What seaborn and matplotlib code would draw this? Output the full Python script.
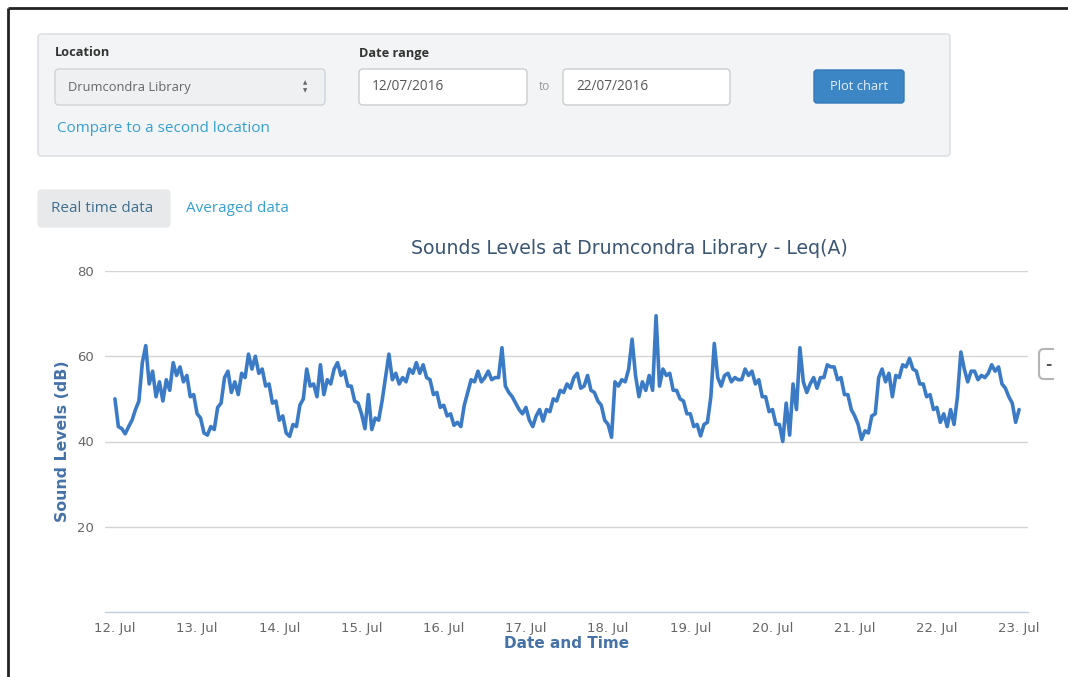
import pandas as pd
import matplotlib
matplotlib.use('Agg')
import matplotlib.pyplot as plt
import matplotlib.dates as mdates
from matplotlib.patches import FancyBboxPatch, Rectangle
import seaborn as sns

# hourly Leq(A) readings at Drumcondra Library, one list per day from 12 Jul 2016 00:00
day_12 = [50.0, 43.5, 43.0, 41.8, 43.5, 45.0, 47.5, 49.5, 58.5, 62.5, 53.5, 56.5,
          50.5, 54.0, 49.5, 54.5, 52.0, 58.5, 55.5, 57.5, 54.0, 55.5, 50.5, 51.0]
day_13 = [46.5, 45.5, 42.0, 41.5, 43.5, 42.8, 48.0, 49.0, 55.0, 56.5, 51.5, 54.0,
          51.0, 56.0, 55.0, 60.5, 57.0, 60.0, 56.0, 57.0, 53.0, 53.5, 49.0, 49.5]
day_14 = [45.0, 46.0, 42.0, 41.2, 44.0, 43.5, 48.5, 50.0, 57.0, 53.0, 53.5, 50.5,
          58.0, 51.0, 54.5, 53.5, 57.0, 58.5, 55.5, 56.5, 53.0, 53.0, 49.5, 49.0]
day_15 = [46.5, 43.0, 51.0, 42.8, 45.5, 45.0, 49.5, 55.0, 60.5, 54.5, 56.0, 53.5,
          55.0, 54.0, 57.0, 56.0, 58.5, 56.0, 58.0, 55.0, 54.5, 51.0, 51.5, 48.0]
day_16 = [48.5, 46.0, 46.5, 43.8, 44.5, 43.5, 48.5, 51.5, 54.5, 54.0, 56.5, 54.0,
          55.0, 56.5, 54.5, 55.0, 55.0, 62.0, 53.0, 51.5, 50.5, 49.0, 47.5, 46.5]
day_17 = [48.0, 45.0, 43.5, 46.0, 47.5, 44.8, 47.5, 47.0, 50.0, 49.5, 52.0, 51.5,
          53.5, 52.5, 55.0, 56.0, 52.5, 53.0, 55.5, 52.0, 51.5, 49.5, 48.5, 45.0]
day_18 = [44.0, 41.0, 54.0, 53.0, 54.5, 54.0, 57.0, 64.0, 55.5, 50.5, 54.0, 52.0,
          55.5, 52.0, 69.5, 53.0, 57.0, 55.5, 56.0, 52.0, 52.0, 50.0, 49.5, 46.5]
day_19 = [46.5, 43.5, 44.0, 41.3, 44.0, 44.5, 50.5, 63.0, 55.0, 53.0, 55.5, 56.0,
          54.0, 55.0, 54.5, 54.5, 57.0, 55.5, 56.5, 53.5, 54.5, 50.5, 50.5, 47.0]
day_20 = [47.5, 44.0, 44.0, 40.0, 49.0, 41.5, 53.5, 47.5, 62.0, 54.0, 51.5, 53.5,
          55.0, 52.5, 55.0, 55.0, 58.0, 57.5, 57.5, 54.5, 55.0, 51.0, 51.0, 47.5]
day_21 = [46.0, 44.0, 40.5, 42.5, 42.0, 46.0, 46.5, 55.0, 57.0, 54.0, 56.0, 50.5,
          55.5, 55.0, 58.0, 57.5, 59.5, 57.0, 56.5, 53.5, 53.5, 50.5, 51.0, 47.5]
day_22 = [48.0, 44.5, 46.5, 43.5, 47.5, 44.0, 50.5, 61.0, 57.0, 54.0, 56.5, 56.5,
          54.5, 55.5, 55.0, 56.0, 58.0, 56.5, 57.5, 53.5, 52.5, 50.5, 49.0, 44.5]
day_23 = [47.5]

levels = (day_12 + day_13 + day_14 + day_15 + day_16 + day_17 + day_18
          + day_19 + day_20 + day_21 + day_22 + day_23)
times = pd.date_range('2016-07-12', periods=len(levels), freq='h')
tick_days = pd.date_range('2016-07-12', '2016-07-23', freq='D')
y_ticks = [20, 40, 60, 80]

line_color = '#3b7bc6'
axis_title_color = '#4572a7'
link_color = '#35a0d2'

sns.set_style('white')
plt.rcParams['font.family'] = ['DejaVu Sans']

W, H = 1068, 677
fig = plt.figure(figsize=(W / 100, H / 100), dpi=100)

# page layer, drawn in pixel units
ui = fig.add_axes([0, 0, 1, 1], zorder=0)
ui.set_xlim(0, W)
ui.set_ylim(H, 0)
ui.axis('off')


def box(x0, y0, x1, y1, fc, ec, r=4, lw=1.0):
    ui.add_patch(FancyBboxPatch((x0, y0), x1 - x0, y1 - y0,
                                boxstyle=f'round,pad=0,rounding_size={r}',
                                fc=fc, ec=ec, lw=lw))


def uitext(x, y, s, size, color, weight='normal', ha='left'):
    ui.text(x, y, s, fontsize=size, color=color, fontweight=weight, ha=ha,
            va='center', family=['Open Sans', 'DejaVu Sans'])


# page border
ui.plot([8, 8], [8, H], color='#222222', lw=2, solid_capstyle='butt')
ui.plot([8, W], [8, 8], color='#222222', lw=2, solid_capstyle='butt')

# filter panel
box(38, 34, 950, 156, '#f3f4f5', '#d9dcdf', r=3)
uitext(55, 53, 'Location', 9.2, '#333333', 'bold')
box(55, 69, 325, 105, '#eef0f2', '#cfd3d7', r=4)
uitext(68, 87, 'Drumcondra Library', 9.3, '#666666')
ui.text(305, 83, '\u25b2', fontsize=4, color='#666666', ha='center', va='center')
ui.text(305, 91, '\u25bc', fontsize=4, color='#666666', ha='center', va='center')
uitext(57, 128, 'Compare to a second location', 11, link_color)

uitext(359, 53, 'Date range', 9.2, '#333333', 'bold')
box(359, 69, 527, 105, 'white', '#cccccc', r=4)
uitext(372, 87, '12/07/2016', 9.8, '#555555')
uitext(539, 87, 'to', 8.5, '#999999')
box(563, 69, 730, 105, 'white', '#cccccc', r=4)
uitext(576, 87, '22/07/2016', 9.8, '#555555')
box(814, 70, 904, 103, '#3d86c6', '#3479b8', r=3)
uitext(859, 86, 'Plot chart', 9.3, '#e4eef8', ha='center')

# tabs
box(38, 190, 170, 227, '#e8e9ea', '#e8e9ea', r=4)
uitext(51, 208, 'Real time data', 11, '#3f6f91')
uitext(186, 208, 'Averaged data', 11, link_color)

# zoom reset button peeking in at the right edge
box(1039, 349, 1070, 379, 'white', '#b5b5b5', r=5, lw=1.5)
ui.add_patch(Rectangle((1054, 340), 20, 50, fc='white', ec='none'))
ui.text(1048, 364, '-', fontsize=11, color='#555555', fontweight='bold',
        ha='center', va='center')

# chart title
ui.text(629, 248, 'Sounds Levels at Drumcondra Library - Leq(A)', fontsize=13.6,
        color='#3a5673', ha='center', va='center')

# chart
ax = fig.add_axes([105 / W, 1 - 612 / H, 923 / W, 341 / H], zorder=1)
ax.patch.set_alpha(0)
sns.lineplot(x=times, y=levels, ax=ax, color=line_color, linewidth=2.6)

ax.set_ylim(0, 80)
ax.set_yticks(y_ticks)
ax.set_xlim(times[0] - pd.Timedelta(hours=2.9), times[0] + pd.Timedelta(hours=266.6))
ax.set_xticks(tick_days)
ax.xaxis.set_major_formatter(mdates.DateFormatter('%d. %b'))

ax.yaxis.grid(True, color='#d4d4d4', lw=1)
ax.xaxis.grid(False)
ax.set_axisbelow(True)
for side in ['left', 'top', 'right']:
    ax.spines[side].set_visible(False)
ax.spines['bottom'].set_color('#c0d0e0')
ax.spines['bottom'].set_linewidth(1)

ax.tick_params(axis='x', length=5, width=1, color='#c0d0e0', labelcolor='#666666',
               labelsize=9.5, pad=2)
ax.tick_params(axis='y', length=0, labelcolor='#666666', labelsize=9.5, pad=8)

ax.set_xlabel('Date and Time', fontsize=11, fontweight='bold', color=axis_title_color)
ax.set_ylabel('Sound Levels (dB)', fontsize=11.3, fontweight='bold', color=axis_title_color)
ax.xaxis.set_label_coords(0.5, -0.07)
ax.yaxis.set_label_coords(-0.038, 0.5)

plt.savefig('out.png', dpi=100)
